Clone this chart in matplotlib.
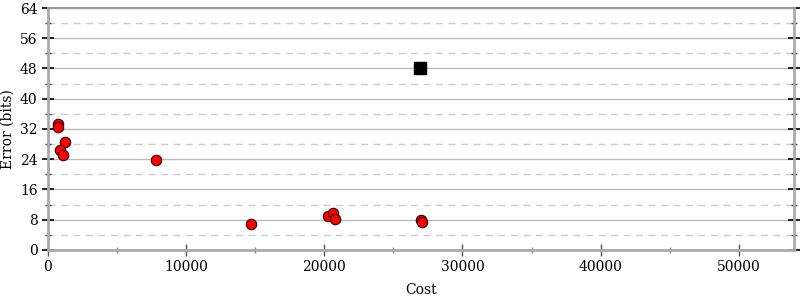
import matplotlib
matplotlib.use("Agg")
import matplotlib.pyplot as plt
from matplotlib.ticker import MultipleLocator

plt.rcParams['font.family'] = 'DejaVu Serif'

# red points: (cost, error bits)
cost = [700, 730, 1250, 900, 1050, 7800, 14700, 20300, 20600, 20800, 27000, 27050]
error = [33.2, 32.5, 28.6, 26.4, 25.1, 23.8, 6.9, 9.0, 9.7, 8.2, 7.8, 7.5]

# black square
best_cost = [26900]
best_error = [48.1]

fig = plt.figure(figsize=(8, 3), dpi=100)
ax = fig.add_axes([0.06, 0.167, 0.9325, 0.8063])

ax.set_xlim(0, 54000)
ax.set_ylim(0, 64)
ax.yaxis.set_major_locator(MultipleLocator(8))
ax.yaxis.set_minor_locator(MultipleLocator(4))
ax.xaxis.set_major_locator(MultipleLocator(10000))
ax.xaxis.set_minor_locator(MultipleLocator(5000))

ax.grid(True, which='major', axis='y', color='#bbbbbb', lw=1)
ax.grid(True, which='minor', axis='y', color='#cccccc', lw=1, ls=(0, (5, 4)))
ax.set_axisbelow(True)

for s in ['left', 'right', 'bottom']:
    ax.spines[s].set_color('#aaaaaa')
    ax.spines[s].set_linewidth(2)
ax.spines['top'].set_color('#999999')
ax.spines['top'].set_linewidth(1.5)

ax.tick_params(axis='y', which='major', direction='inout', length=8, width=1.2,
               color='black', left=True, right=True, labelsize=10)
ax.tick_params(axis='y', which='minor', direction='inout', length=5, width=1,
               color='#444444', left=True, right=True)
ax.tick_params(axis='x', which='major', direction='inout', length=8, width=1,
               color='#555555', labelsize=10)
ax.tick_params(axis='x', which='minor', direction='inout', length=4, width=1,
               color='#888888')

ax.plot(cost, error, 'o', color='red', markeredgecolor='#330000',
        markeredgewidth=0.8, markersize=7.5, zorder=3)
ax.plot(best_cost, best_error, 's', color='black', markersize=8, zorder=3)

ax.set_xlabel('Cost', fontsize=10, labelpad=6)
ax.set_ylabel('Error (bits)', fontsize=10, labelpad=4)

fig.savefig('out.png', dpi=100)
